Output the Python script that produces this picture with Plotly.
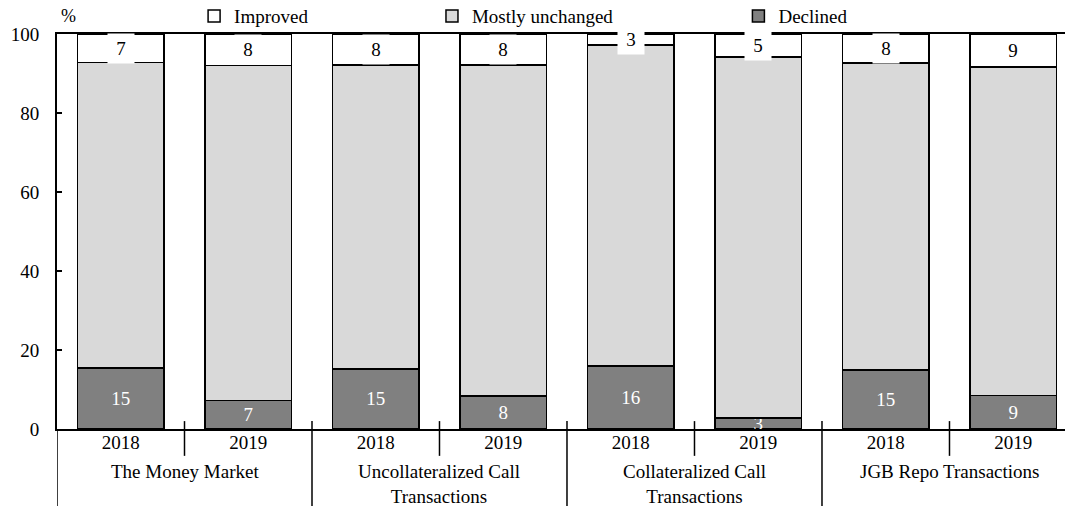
import plotly.graph_objects as go

groups = ["The Money Market", "Uncollateralized Call<br>Transactions",
          "Collateralized Call<br>Transactions", "JGB Repo Transactions"]
years = ["2018", "2019"]

declined = [15.5, 7.2, 15.2, 8.4, 16.0, 2.8, 14.9, 8.5]
unchanged = [77.3, 84.8, 77.0, 83.7, 81.2, 91.4, 77.7, 83.1]
improved = [7.2, 8.0, 7.8, 7.9, 2.8, 5.8, 7.4, 8.4]
declined_labels = ["15", "7", "15", "8", "16", "3", "15", "9"]
improved_labels = ["7", "8", "8", "8", "3", "5", "8", "9"]

FONT = "'Times New Roman', 'Liberation Serif', serif"
FS = 19

year_labels = [y for g in groups for y in years]
xs = list(range(len(year_labels)))
n_per = len(years)

fig = go.Figure()
line = dict(color="black", width=1.5)
fig.add_trace(go.Bar(x=xs, y=declined, name="Declined", legend="legend3", showlegend=True,
                     marker=dict(color="#808080", line=line),
                     text=declined_labels, textposition="inside",
                     insidetextanchor="middle", textangle=0,
                     textfont=dict(color="white", size=FS, family=FONT),
                     hoverinfo="skip"))
fig.add_trace(go.Bar(x=xs, y=unchanged, name="Mostly unchanged", legend="legend2", showlegend=True,
                     marker=dict(color="#d9d9d9", line=line), hoverinfo="skip"))
fig.add_trace(go.Bar(x=xs, y=improved, name="Improved", legend="legend", showlegend=True,
                     marker=dict(color="white", line=line), hoverinfo="skip"))

annotations = []
for i in xs:
    annotations.append(dict(x=i, y=declined[i] + unchanged[i] + improved[i] / 2,
                            xref="x", yref="y", text=improved_labels[i],
                            showarrow=False, bgcolor="white", width=22, height=25,
                            borderpad=2, font=dict(size=FS, family=FONT, color="black")))
for gi, g in enumerate(groups):
    annotations.append(dict(x=gi * n_per + (n_per - 1) / 2, y=-0.077, xref="x", yref="paper",
                            text=g, showarrow=False, yanchor="top",
                            font=dict(size=FS, family=FONT, color="black")))
annotations.append(dict(x=0.011, y=1.046, xref="paper", yref="paper", text="%",
                        xanchor="center", yanchor="middle",
                        showarrow=False, font=dict(size=FS - 1, family=FONT, color="black")))

shapes = []
for b in range(len(xs)):
    xb = b - 0.5
    long_div = (b % n_per == 0)
    shapes.append(dict(type="line", xref="x", yref="paper", x0=xb, x1=xb,
                       y0=0.02 if b > 0 else 0, y1=-0.2 if long_div else -0.068,
                       line=dict(color="black", width=1.5)))

leg_common = dict(orientation="h", yanchor="middle", y=1.045, xanchor="left",
                  font=dict(size=FS, family=FONT, color="black"),
                  bgcolor="rgba(0,0,0,0)", itemwidth=30, visible=True)
fig.update_layout(
    width=1065, height=506,
    margin=dict(l=57, r=0, t=34, b=77, autoexpand=False),
    paper_bgcolor="white", plot_bgcolor="white",
    barmode="stack", bargap=0.325, showlegend=True,
    font=dict(family=FONT, size=FS, color="black"),
    uniformtext=dict(minsize=FS, mode="show"),
    legend=dict(x=0.136, **leg_common),
    legend2=dict(x=0.372, **leg_common),
    legend3=dict(x=0.676, **leg_common),
    xaxis=dict(range=[-0.5, 7.406], tickvals=xs, ticktext=year_labels,
               showline=True, mirror=True, linecolor="black", linewidth=2,
               ticks="", showgrid=False, zeroline=False, ticklabelstandoff=-5,
               tickfont=dict(size=FS, family=FONT)),
    yaxis=dict(range=[0, 100], tickvals=[0, 20, 40, 60, 80, 100],
               showline=True, linecolor="black", linewidth=2, ticks="inside",
               ticklen=5, tickwidth=1.5, tickcolor="black", showgrid=False,
               zeroline=False, ticklabelstandoff=12, tickfont=dict(size=FS, family=FONT)),
    annotations=annotations, shapes=shapes,
)
fig.write_html("out.html", config={"displayModeBar": False},
               post_script="document.body.style.margin='0';document.body.style.overflow='hidden';")
